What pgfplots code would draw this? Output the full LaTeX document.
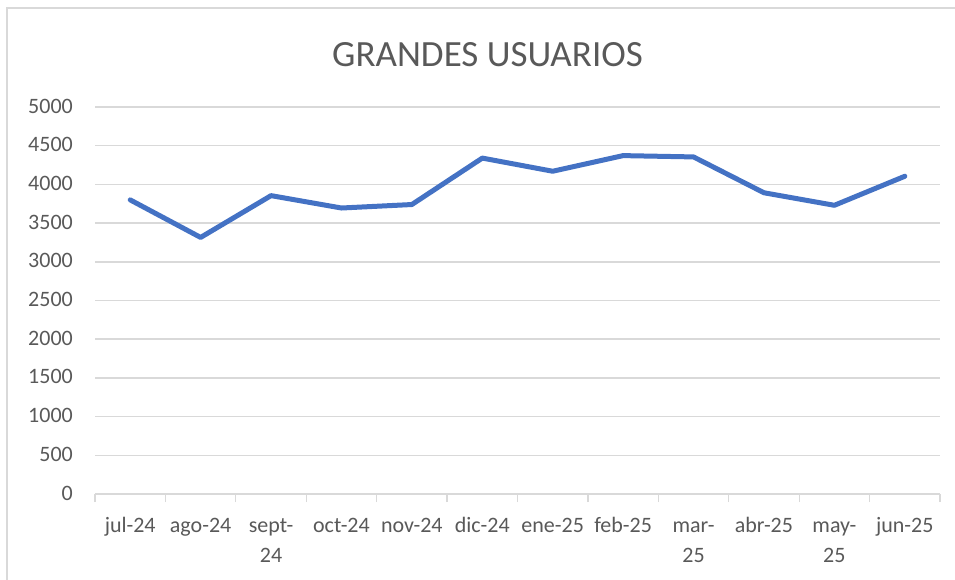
\documentclass[border=0pt]{standalone}
\usepackage{pgfplots}
\pgfplotsset{compat=1.18}
\usepackage{fontspec}
\setmainfont{Carlito}
\definecolor{txt}{HTML}{595959}
\definecolor{gridc}{HTML}{D9D9D9}
\definecolor{lineblue}{HTML}{4472C4}
\begin{document}
\begin{tikzpicture}[x=1pt,y=1pt]
\useasboundingbox (0,0) rectangle (955,579);
\draw[gridc, line width=1.5pt] (7,-2) -- (7,571) -- (960,571);
\node[anchor=base, text=txt, font=\fontsize{37}{40}\selectfont] at (487.5,512) {GRANDES USUARIOS};
\begin{axis}[
  at={(95pt,85pt)}, anchor=south west,
  scale only axis, width=845pt, height=387pt,
  xmin=-0.5, xmax=11.5, ymin=0, ymax=5000,
  ytick={0,500,...,5000},
  xtick={0,...,11},
  xticklabels={jul-24,ago-24,sept-\\24,oct-24,nov-24,dic-24,ene-25,feb-25,mar-\\25,abr-25,may-\\25,jun-25},
  minor xtick={-0.5,0.5,...,11.5},
  major tick length=0pt,
  minor tick length=8pt,
  tick align=outside,
  minor tick style={gridc, line width=1.2pt},
  axis line style={draw=none},
  axis x line*=bottom,
  axis y line*=left,
  ymajorgrids,
  major grid style={gridc, line width=1.5pt},
  /pgf/number format/assume math mode=true,
  /pgf/number format/1000 sep={},
  ticklabel style={text=txt, font=\fontsize{22}{30}\selectfont},
  yticklabel style={anchor=east, inner sep=0pt, xshift=-22pt},
  xticklabel style={align=center, inner sep=0pt, anchor=north, yshift=-17pt},
  typeset ticklabels with strut,
  clip=false,
]
\draw[gridc, line width=1.5pt] (axis cs:-0.5,0) -- (axis cs:11.5,0);
\addplot[lineblue, line width=5pt, line join=round, line cap=round, mark=none] coordinates {
(0,3800) (1,3315) (2,3855) (3,3695) (4,3740) (5,4340) (6,4170) (7,4372) (8,4355) (9,3892) (10,3730) (11,4105)
};
\end{axis}
\end{tikzpicture}
\end{document}
